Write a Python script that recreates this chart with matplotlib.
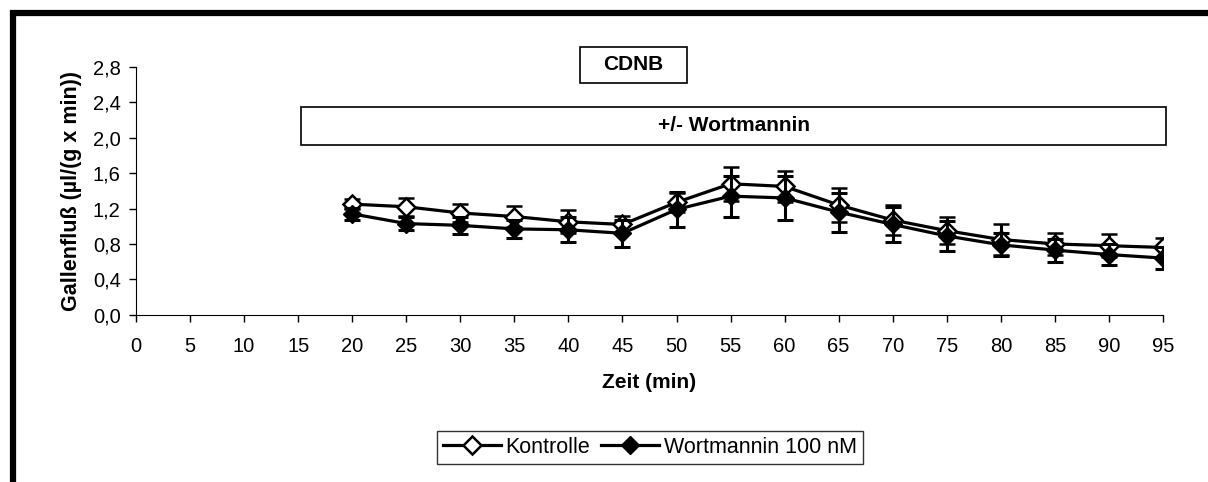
import matplotlib.pyplot as plt
from matplotlib.patches import Rectangle
from matplotlib.lines import Line2D
from matplotlib.ticker import FuncFormatter

plt.rcParams['font.family'] = ['Liberation Sans', 'DejaVu Sans']

zeit = [20, 25, 30, 35, 40, 45, 50, 55, 60, 65, 70, 75, 80, 85, 90, 95]
kontrolle = [1.25, 1.22, 1.15, 1.11, 1.05, 1.02, 1.27, 1.48, 1.45, 1.24, 1.07, 0.95,
             0.85, 0.80, 0.78, 0.76]
kontrolle_err = [0.06, 0.10, 0.10, 0.12, 0.13, 0.10, 0.11, 0.19, 0.18, 0.19, 0.17, 0.15,
                 0.18, 0.12, 0.13, 0.11]
wort = [1.14, 1.03, 1.01, 0.97, 0.96, 0.92, 1.19, 1.34, 1.32, 1.16, 1.02, 0.89,
        0.79, 0.73, 0.68, 0.64]
wort_err = [0.07, 0.07, 0.10, 0.10, 0.14, 0.15, 0.20, 0.23, 0.25, 0.22, 0.20, 0.17,
            0.13, 0.13, 0.12, 0.12]
x_ticks = list(range(0, 100, 5))
y_ticks = [0.0, 0.4, 0.8, 1.2, 1.6, 2.0, 2.4, 2.8]

fig = plt.figure(figsize=(12.08, 4.82), dpi=100)
ax = fig.add_axes([136 / 1208, 1 - 314.7 / 482, (1163 - 136) / 1208, (314.7 - 67) / 482])

ax.errorbar(zeit, kontrolle, yerr=kontrolle_err, color='black', lw=2.3, marker='D',
            ms=9, mfc='white', mec='black', mew=1.8, capsize=6, capthick=2.2,
            elinewidth=2.2, zorder=3)
ax.errorbar(zeit, wort, yerr=wort_err, color='black', lw=2.3, marker='D',
            ms=9, mfc='black', mec='black', capsize=6, capthick=2.2,
            elinewidth=2.2, zorder=4)

ax.set_xlim(0, 95)
ax.set_ylim(0, 2.8)
ax.set_xticks(x_ticks)
ax.set_yticks(y_ticks)
ax.yaxis.set_major_formatter(FuncFormatter(lambda v, p: f'{v:.1f}'.replace('.', ',')))
ax.tick_params(labelsize=14.5, direction='out', length=5, width=1)
ax.tick_params(axis='x', pad=11)
ax.tick_params(axis='y', pad=6)
for s in ['top', 'right']:
    ax.spines[s].set_visible(False)
ax.set_xlabel('Zeit (min)', fontsize=15, fontweight='bold', labelpad=12)
ax.set_ylabel('Gallenfluß (µl/(g x min))', fontsize=15.5, fontweight='bold', labelpad=8)

# text boxes
ax.add_patch(Rectangle((15.3, 1.92), 95.3 - 15.3, 0.43, transform=ax.transData,
                       fill=False, ec='black', lw=1.2, clip_on=False))
ax.text((15.3 + 95.3) / 2, 2.135, '+/- Wortmannin', ha='center', va='center',
        fontsize=15, fontweight='bold')
fx0, fx1 = 580 / 1208, 687 / 1208
fy0, fy1 = 1 - 83 / 482, 1 - 47 / 482
fig.add_artist(Rectangle((fx0, fy0), fx1 - fx0, fy1 - fy0, transform=fig.transFigure,
                         fill=False, ec='black', lw=1.2))
fig.text((fx0 + fx1) / 2, (fy0 + fy1) / 2, 'CDNB', ha='center', va='center',
         fontsize=15, fontweight='bold')

handles = [Line2D([], [], color='black', lw=2.3, marker='D', ms=9, mfc='white',
                  mec='black', mew=1.8),
           Line2D([], [], color='black', lw=2.3, marker='D', ms=9, mfc='black',
                  mec='black')]
leg = fig.legend(handles, ['Kontrolle', 'Wortmannin 100 nM'], loc='center',
                 bbox_to_anchor=(650 / 1208, 1 - 447.5 / 482), ncol=2,
                 fontsize=15.5, frameon=True, fancybox=False, edgecolor='black',
                 handlelength=2.7, columnspacing=0.5, handletextpad=0.2,
                 borderpad=0.3, borderaxespad=0)
leg.get_frame().set_linewidth(1.0)

# thick frame on top and left
fig.add_artist(Line2D([12.5 / 1208, 12.5 / 1208], [0, 1 - 10 / 482], color='black',
                      lw=4.5, transform=fig.transFigure, solid_capstyle='butt'))
fig.add_artist(Line2D([10 / 1208, 1], [1 - 12.5 / 482, 1 - 12.5 / 482], color='black',
                      lw=4.5, transform=fig.transFigure, solid_capstyle='butt'))

fig.savefig('out.png', dpi=100)
